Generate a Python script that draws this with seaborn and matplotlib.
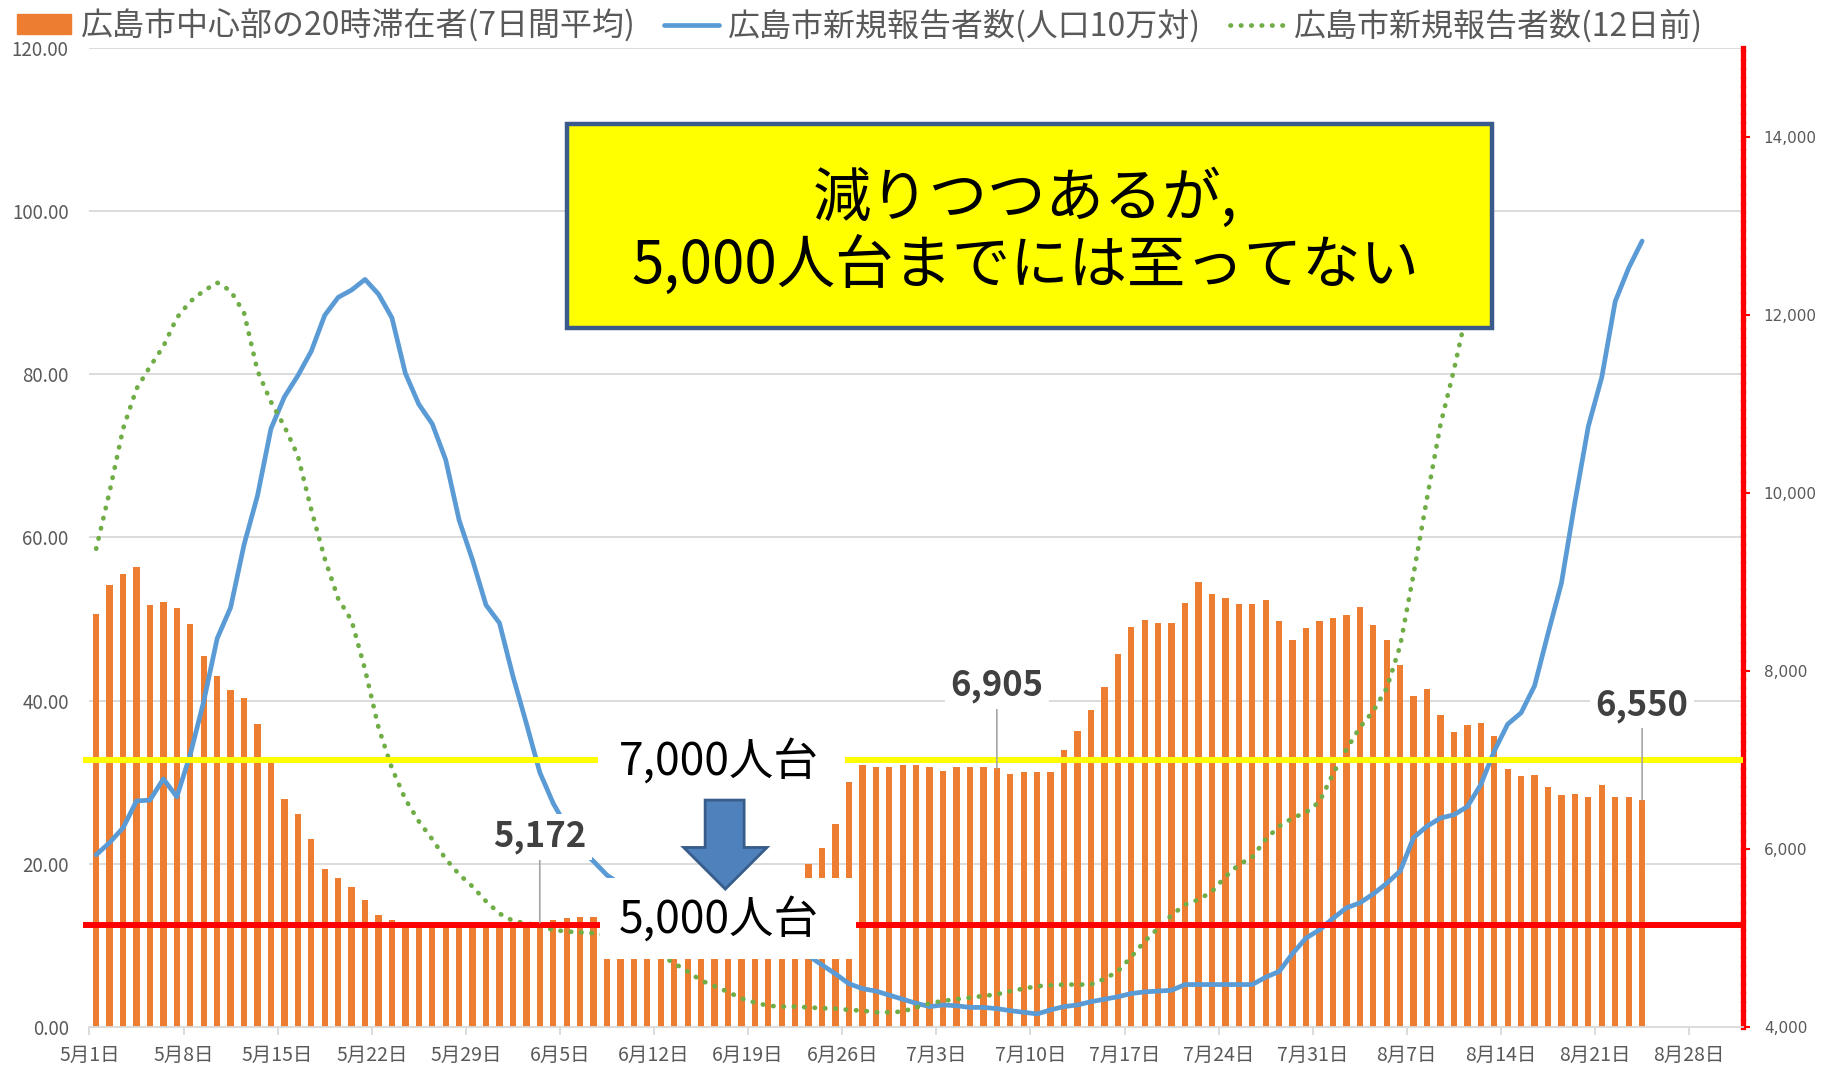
import numpy as np
import matplotlib
matplotlib.use("Agg")
import matplotlib.pyplot as plt
import matplotlib.patches as mpatches
from matplotlib.lines import Line2D
import seaborn as sns

# 広島市中心部の20時滞在者(7日間平均) 5/1 - 8/24 (人)
visitors = [8643, 8968, 9088, 9161, 8739, 8776, 8703, 8528, 8171, 7942,
            7786, 7694, 7401, 6979, 6558, 6393, 6108, 5778, 5668, 5568,
            5430, 5260, 5201, 5170, 5160, 5150, 5150, 5140, 5145, 5150,
            5160, 5165, 5168, 5172, 5200, 5225, 5230, 5230, 5240, 5250,
            5260, 5270, 5280, 5290, 5300, 5320, 5340, 5370, 5400, 5440,
            5490, 5550, 5620, 5826, 6010, 6285, 6750, 6943, 6915, 6915,
            6943, 6943, 6915, 6878, 6915, 6915, 6915, 6905, 6842, 6860,
            6860, 6860, 7108, 7328, 7557, 7823, 8189, 8492, 8574, 8538,
            8538, 8767, 8996, 8868, 8813, 8748, 8748, 8794, 8565, 8345,
            8483, 8565, 8593, 8629, 8712, 8519, 8345, 8061, 7713, 7795,
            7502, 7309, 7392, 7410, 7273, 6897, 6814, 6833, 6695, 6603,
            6622, 6585, 6713, 6585, 6585, 6550]

# 広島市新規報告者数(人口10万対) 5/1 - 8/24
new_cases = [21.1, 22.6, 24.4, 27.7, 27.8, 30.4, 28.2, 33.4, 39.9, 47.6,
             51.4, 59.1, 65.1, 73.3, 77.2, 79.8, 82.8, 87.2, 89.4, 90.3,
             91.6, 89.8, 86.9, 80.1, 76.3, 73.9, 69.5, 62.1, 57.2, 51.7,
             49.5, 43.0, 37.2, 31.2, 27.4, 24.5, 21.8, 20.3, 18.6, 17.5,
             16.5, 15.5, 14.5, 13.8, 13.2, 12.7, 12.2, 11.8, 11.4, 11.0,
             10.6, 10.1, 9.5, 8.7, 7.6, 6.5, 5.3, 4.7, 4.4, 3.9,
             3.4, 2.9, 2.5, 2.7, 2.6, 2.4, 2.4, 2.25, 2.0, 1.8,
             1.6, 2.1, 2.5, 2.7, 3.1, 3.4, 3.7, 4.1, 4.3, 4.4,
             4.5, 5.2, 5.2, 5.2, 5.2, 5.2, 5.2, 6.1, 6.8, 9.0,
             10.9, 11.9, 13.3, 14.6, 15.2, 16.3, 17.6, 19.1, 23.2, 24.6,
             25.6, 26.0, 27.0, 29.7, 33.8, 37.1, 38.5, 41.8, 48.2, 54.4,
             64.3, 73.6, 79.6, 88.9, 93.0, 96.3]

# 広島市新規報告者数(12日前) 5/1 - 8/12
cases_12d = [58.6, 65.6, 73.3, 78.2, 80.9, 83.4, 86.9, 88.9, 90.2, 91.2,
             90.2, 87.5, 80.4, 76.6, 73.6, 70.0, 63.4, 57.4, 52.5, 49.8,
             43.8, 36.7, 31.7, 27.9, 25.2, 23.0, 20.6, 18.7, 17.2, 15.4,
             13.9, 13.0, 12.7, 12.4, 11.9, 11.7, 11.6, 11.5, 11.2, 10.6,
             10.0, 9.4, 8.8, 7.8, 6.8, 5.7, 5.0, 4.3, 3.5, 3.0,
             2.6, 2.5, 2.5, 2.4, 2.3, 2.25, 2.1, 2.0, 1.8, 1.8,
             1.9, 2.4, 2.9, 3.2, 3.4, 3.6, 3.8, 4.0, 4.4, 4.7,
             5.0, 5.1, 5.2, 5.2, 5.2, 5.9, 6.8, 8.6, 10.5, 12.1,
             13.7, 15.0, 15.6, 16.6, 18.4, 19.9, 20.8, 23.0, 24.6, 25.6,
             26.3, 27.6, 31.0, 34.0, 36.7, 38.7, 41.5, 46.7, 55.5, 64.8,
             73.8, 80.5, 88.0, 95.0]

tick_labels = ["5月1日", "5月8日", "5月15日", "5月22日", "5月29日", "6月5日",
               "6月12日", "6月19日", "6月26日", "7月3日", "7月10日", "7月17日",
               "7月24日", "7月31日", "8月7日", "8月14日", "8月21日", "8月28日"]

legend_labels = ["広島市中心部の20時滞在者(7日間平均)",
                 "広島市新規報告者数(人口10万対)",
                 "広島市新規報告者数(12日前)"]

labelled_days = [33, 67, 115]

ORANGE = "#ED7D31"
BLUE = "#5B9BD5"
GREEN = "#70AD47"
GRAY = "#595959"
GRID = "#D9D9D9"
N_DAYS = 123
P_MIN, P_MAX = 4000, 15000
L_MAX = 120
DOTS = (0, (0.1, 2.1))


def to_left(p):
    return (p - P_MIN) * L_MAX / (P_MAX - P_MIN)


sns.set_style("white")
plt.rcParams["font.family"] = ["Noto Sans CJK JP", "DejaVu Sans"]

fig = plt.figure(figsize=(18.22, 10.68), dpi=100)
ax = fig.add_axes([0.0491, 0.0384, 0.9075, 0.917])
ax2 = ax.twinx()

# gridlines (left axis steps) behind bars
grid_levels = [P_MIN + v * (P_MAX - P_MIN) / L_MAX for v in range(20, 121, 20)]
ax.hlines(grid_levels, 0, N_DAYS, color=GRID, lw=1.3, zorder=0)

x_bar = np.arange(len(visitors)) + 0.5
sns.barplot(x=x_bar, y=visitors, native_scale=True, color=ORANGE, saturation=1,
            width=0.47, errorbar=None, linewidth=0, ax=ax, zorder=2)

x_blue = np.arange(len(new_cases)) + 0.5
x_green = np.arange(len(cases_12d)) + 0.5
sns.lineplot(x=x_blue, y=new_cases, ax=ax2, color=BLUE, linewidth=3.4,
             legend=False, estimator=None, sort=False, zorder=3)
sns.lineplot(x=x_green, y=cases_12d, ax=ax2, color=GREEN, linewidth=3.4,
             linestyle=DOTS, dash_capstyle="round",
             legend=False, estimator=None, sort=False, zorder=3)

ax.set_xlim(0, N_DAYS)
ax.set_ylim(P_MIN, P_MAX)
ax2.set_ylim(0, L_MAX)
ax.set_xlabel("")
ax.set_ylabel("")
ax2.set_xlabel("")
ax2.set_ylabel("")

# x axis
ax.set_xticks(range(0, 120, 7))
ax.set_xticklabels(tick_labels)
ax.tick_params(axis="x", length=6, width=1.3, color=GRID, labelsize=14,
               labelcolor=GRAY, pad=7, direction="out", bottom=True)

# right axis (bars)
ax.yaxis.tick_right()
ax.set_yticks(range(4000, 14001, 2000))
ax.set_yticklabels([f"{v:,}" for v in range(4000, 14001, 2000)])
ax.tick_params(axis="y", length=5, width=1.5, color="red", labelsize=11,
               labelcolor=GRAY, pad=10, direction="out", right=True, left=False)
for lbl in ax.get_yticklabels():
    lbl.set_fontfamily("DejaVu Sans")

# left axis (lines)
ax2.yaxis.tick_left()
ax2.set_yticks(range(0, 121, 20))
ax2.set_yticklabels([f"{v:.2f}" for v in range(0, 121, 20)])
ax2.tick_params(axis="y", length=0, labelsize=13.5, labelcolor=GRAY, pad=15,
                left=True, right=False)

for s in ["top", "left"]:
    ax.spines[s].set_visible(False)
ax.spines["bottom"].set_color(GRID)
ax.spines["bottom"].set_linewidth(1.3)
ax.spines["right"].set_color("red")
ax.spines["right"].set_linewidth(3.8)
ax.spines["right"].set_linestyle((0, (1.1, 0.6)))
for s in ax2.spines.values():
    s.set_visible(False)

# 7,000 / 5,000 level lines
ax2.plot([-0.45, N_DAYS], [to_left(7000)] * 2, color="#FFFF00", lw=4.3,
         clip_on=False, zorder=8, solid_capstyle="butt")
ax2.plot([-0.45, N_DAYS], [to_left(5140)] * 2, color="#FF0000", lw=4.3,
         clip_on=False, zorder=8, solid_capstyle="butt")

# white text boxes
ax2.add_patch(mpatches.Rectangle((37.8, 28.5), 18.4, 8.0, facecolor="white",
                                 edgecolor="none", zorder=9))
ax2.add_patch(mpatches.Rectangle((38.0, 8.3), 19.0, 9.9, facecolor="white",
                                 edgecolor="none", zorder=9))
ax2.text(46.8, 32.4, "7,000人台", fontsize=32, color="black", ha="center",
         va="center", zorder=10)
ax2.text(46.8, 13.1, "5,000人台", fontsize=32, color="black", ha="center",
         va="center", zorder=10)
arrow = mpatches.Polygon([(45.8, 27.8), (48.7, 27.8), (48.7, 22.0), (50.4, 22.0),
                          (47.3, 16.9), (44.2, 22.0), (45.8, 22.0)],
                         closed=True, facecolor="#4F81BD", edgecolor="#385D8A",
                         lw=2, zorder=10)
ax2.add_patch(arrow)

# callout
ax2.add_patch(mpatches.Rectangle((35.5, 85.6), 68.8, 25.0, facecolor="#FFFF00",
                                 edgecolor="#3A5A8C", lw=3.2, zorder=11,
                                 clip_on=False))
ax2.text(69.6, 97.3, "減りつつあるが,\n5,000人台までには至ってない", fontsize=42,
         color="black", ha="center", va="center", linespacing=1.12, zorder=12)

# value labels
label_heights = [23.3, 41.8, 39.4]
for d, h in zip(labelled_days, label_heights):
    ax2.annotate(f"{visitors[d]:,}", xy=(d + 0.5, to_left(visitors[d])),
                 xytext=(d + 0.5, h), ha="center", va="center", fontsize=25,
                 fontweight="bold", color="#404040", zorder=10,
                 bbox=dict(boxstyle="square,pad=0.15", fc="white", ec="none"),
                 arrowprops=dict(arrowstyle="-", color="#A6A6A6", lw=1.2,
                                 shrinkA=0, shrinkB=0))

handles = [mpatches.Patch(color=ORANGE),
           Line2D([], [], color=BLUE, lw=3.4),
           Line2D([], [], color=GREEN, lw=3.4, linestyle=DOTS,
                  dash_capstyle="round")]
fig.legend(handles, legend_labels, loc="center left",
           bbox_to_anchor=(0.0093, 0.976), ncol=3, frameon=False, fontsize=23,
           handlelength=1.7, handleheight=0.55, handletextpad=0.3,
           columnspacing=0.9, borderpad=0, borderaxespad=0, labelcolor=GRAY)

fig.savefig("out.png", dpi=100)
